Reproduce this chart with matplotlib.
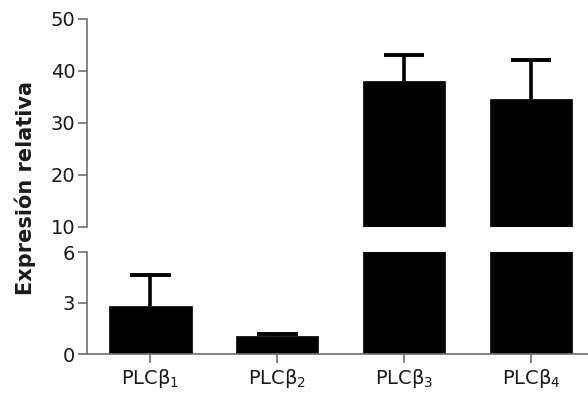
import matplotlib
matplotlib.use("Agg")
import matplotlib.pyplot as plt
import numpy as np

categories = ["PLCβ$_1$", "PLCβ$_2$", "PLCβ$_3$", "PLCβ$_4$"]
values = [2.8, 1.08, 38.0, 34.7]
errors = [1.85, 0.07, 5.1, 7.4]
upper_ticks = [10, 20, 30, 40, 50]
lower_ticks = [0, 3, 6]

plt.rcParams['font.family'] = ['DejaVu Sans']
W, H = 588, 397
fig = plt.figure(figsize=(W / 100, H / 100), dpi=100)

left = 87 / W
right = 1.0
ax_top = fig.add_axes([left, (H - 227) / H, right - left, (227 - 19) / H])
ax_bot = fig.add_axes([left, (H - 354) / H, right - left, (354 - 252) / H])

x = np.arange(len(categories))
vals = np.array(values)
errs = np.array(errors)
spine_col = '#707070'
text_col = '#1a1a1a'
cap_half = 0.16

for ax in (ax_top, ax_bot):
    ax.bar(x, vals, width=0.65, color='black', edgecolor='black', linewidth=0.5)
    ax.vlines(x, vals, vals + errs, color='black', linewidth=2.6)
    ax.hlines(vals + errs, x - cap_half, x + cap_half, color='black', linewidth=2.8)
    ax.set_xlim(-0.5, 3.45)
    for s in ('top', 'right'):
        ax.spines[s].set_visible(False)
    ax.spines['left'].set_color(spine_col)
    ax.spines['left'].set_linewidth(1.2)
    ax.tick_params(axis='y', colors=spine_col, labelcolor=text_col, labelsize=14,
                   length=6.5, width=1.2, direction='out', pad=2)

ax_top.set_ylim(10, 50)
ax_top.set_yticks(upper_ticks)
ax_top.spines['bottom'].set_visible(False)
ax_top.set_xticks([])

ax_bot.set_ylim(0, 6)
ax_bot.set_yticks(lower_ticks)
ax_bot.spines['bottom'].set_color(spine_col)
ax_bot.spines['bottom'].set_linewidth(1.2)
ax_bot.set_xticks(x)
ax_bot.set_xticklabels(categories)
ax_bot.tick_params(axis='x', colors=spine_col, labelcolor=text_col, labelsize=14,
                   length=6.5, width=1.2, direction='out', pad=3)

fig.text(25 / W, (H - 188) / H, "Expresión relativa", rotation=90,
         ha='center', va='center', fontsize=15, fontweight='bold', color=text_col)

fig.savefig("out.png", dpi=100)
